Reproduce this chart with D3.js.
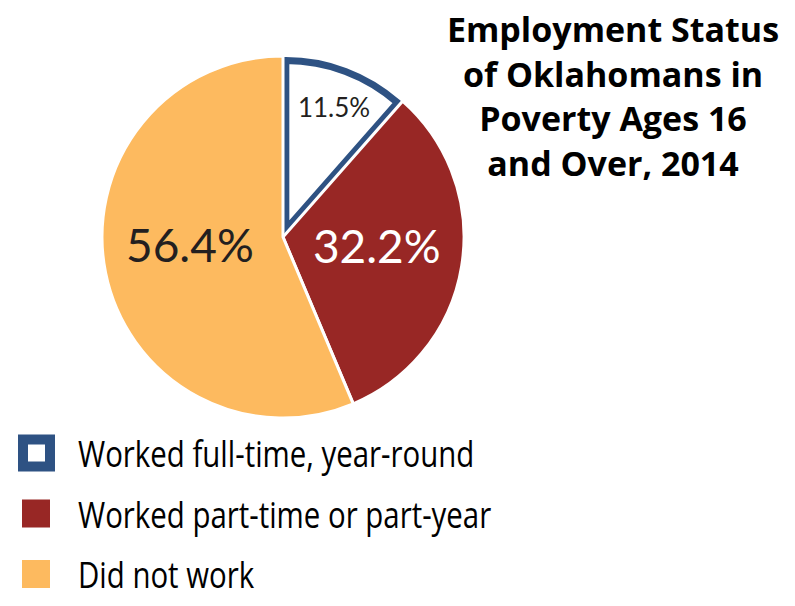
<!DOCTYPE html>
<html>
<head>
<meta charset="utf-8">
<script src="https://cdn.jsdelivr.net/npm/d3@7"></script>
<style>
  body { margin: 0; background: #fff; }
</style>
</head>
<body>
<script>
var width = 795;
var height = 606;

var categories = ["Worked full-time, year-round", "Worked part-time or part-year", "Did not work"];
var values = [11.5, 32.2, 56.4];
var labels = ["11.5%", "32.2%", "56.4%"];
var titleLines = ["Employment Status", "of Oklahomans in", "Poverty Ages 16", "and Over, 2014"];

var colors = ["#ffffff", "#982725", "#fdba5f"];
var blue = "#2e5283";

var cx = 283, cy = 237, radius = 181;

var svg = d3.select("body")
  .append("svg")
  .attr("width", width)
  .attr("height", height);

var pie = d3.pie().sort(null).value(function(d) { return d; });
var arcs = pie(values);

var arc = d3.arc().innerRadius(0).outerRadius(radius);
var arcBlue = d3.arc().innerRadius(0).outerRadius(radius - 12);

var g = svg.append("g")
  .attr("transform", `translate(${cx},${cy})`);

// the full-time slice is pulled out a bit and outlined
function offset(d, i) {
  if (i != 0) return "translate(0,0)";
  var a = (d.startAngle + d.endAngle) / 2;
  return `translate(${Math.sin(a) * 8},${-Math.cos(a) * 8})`;
}

g.selectAll("path")
  .data(arcs)
  .enter()
  .append("path")
    .attr("transform", offset)
    .attr("d", function(d, i) { return i == 0 ? arcBlue(d) : arc(d); })
    .attr("fill", function(d, i) { return colors[i]; })
    .attr("stroke", function(d, i) { return i == 0 ? blue : "#fff"; })
    .attr("stroke-width", function(d, i) { return i == 0 ? 7 : 3; })
    .attr("stroke-linejoin", "miter");

// slice labels
var labelStyle = [
  {r: 136, dx: 3, dy: 7, size: 26, fill: "#231f20"},
  {r: 95, dx: 0, dy: 11, size: 46, fill: "#fff"},
  {r: 95, dx: 0, dy: 6, size: 46, fill: "#231f20"}
];

g.selectAll("text.lbl")
  .data(arcs)
  .enter()
  .append("text")
    .attr("class", "lbl")
    .attr("transform", function(d, i) {
      var a = (d.startAngle + d.endAngle) / 2;
      var r = labelStyle[i].r;
      return `translate(${Math.sin(a) * r},${-Math.cos(a) * r})`;
    })
    .attr("text-anchor", "middle")
    .attr("dx", function(d, i) { return labelStyle[i].dx; })
    .attr("dy", function(d, i) { return labelStyle[i].dy; })
    .attr("font-family", "Lato, 'Open Sans', sans-serif")
    .attr("font-size", function(d, i) { return labelStyle[i].size; })
    .attr("fill", function(d, i) { return labelStyle[i].fill; })
    .text(function(d, i) { return labels[i]; });

// title
svg.append("text")
  .attr("x", 613)
  .attr("y", 42)
  .attr("text-anchor", "middle")
  .attr("font-family", "'Open Sans', sans-serif")
  .attr("font-weight", "bold")
  .attr("font-size", 34)
  .attr("fill", "#000")
  .selectAll("tspan")
  .data(titleLines)
  .enter()
  .append("tspan")
    .attr("x", 613)
    .attr("dy", function(d, i) { return i == 0 ? 0 : 44.5; })
    .text(function(d) { return d; });

// legend
var legend = svg.append("g")
  .attr("transform", "translate(22,0)");

var legendY = d3.scalePoint()
  .domain(categories)
  .range([453, 574]);

var item = legend.selectAll("g")
  .data(categories)
  .enter()
  .append("g")
    .attr("transform", function(d) { return `translate(0,${legendY(d)})`; });

item.append("rect")
  .attr("x", function(d, i) { return i == 0 ? 1 : 0; })
  .attr("y", function(d, i) { return i == 0 ? -13.5 : -14; })
  .attr("width", function(d, i) { return i == 0 ? 27 : 28; })
  .attr("height", function(d, i) { return i == 0 ? 27 : 28; })
  .attr("fill", function(d, i) { return colors[i]; })
  .attr("stroke", function(d, i) { return i == 0 ? blue : "none"; })
  .attr("stroke-width", 10);

// condensed look: no narrow face installed, so squeeze horizontally
item.append("text")
  .attr("transform", "translate(56,14) scale(0.795,1)")
  .attr("font-family", "'Open Sans', sans-serif")
  .attr("font-size", 37)
  .attr("fill", "#000")
  .text(function(d) { return d; });
</script>
</body>
</html>
